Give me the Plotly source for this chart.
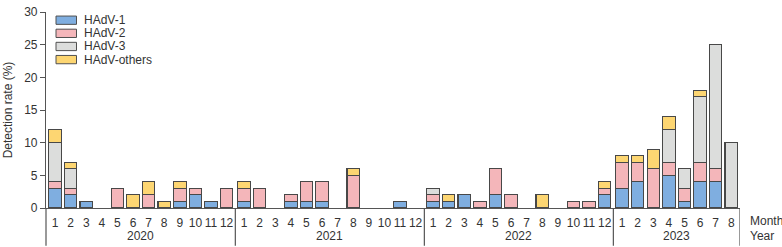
import plotly.graph_objects as go

years = ["2020", "2021", "2022", "2023"]
months_per_year = [12, 12, 12, 8]

hadv1 = [3, 2, 1, 0, 0, 0, 0, 0, 1, 2, 1, 0,
         1, 0, 0, 1, 1, 1, 0, 0, 0, 0, 1, 0,
         1, 1, 2, 0, 2, 0, 0, 0, 0, 0, 0, 2,
         3, 4, 0, 5, 1, 4, 4, 0]
hadv2 = [1, 1, 0, 0, 3, 0, 2, 0, 2, 1, 0, 3,
         2, 3, 0, 1, 3, 3, 0, 5, 0, 0, 0, 0,
         1, 0, 0, 1, 4, 2, 0, 0, 0, 1, 1, 1,
         4, 3, 6, 2, 2, 3, 2, 0]
hadv3 = [6, 3, 0, 0, 0, 0, 0, 0, 0, 0, 0, 0,
         0, 0, 0, 0, 0, 0, 0, 0, 0, 0, 0, 0,
         1, 0, 0, 0, 0, 0, 0, 0, 0, 0, 0, 0,
         0, 0, 0, 5, 3, 10, 19, 10]
hadv_others = [2, 1, 0, 0, 0, 2, 2, 1, 1, 0, 0, 0,
               1, 0, 0, 0, 0, 0, 0, 1, 0, 0, 0, 0,
               0, 1, 0, 0, 0, 0, 0, 2, 0, 0, 0, 1,
               1, 1, 3, 2, 0, 1, 0, 0]

series_names = ["HAdV-1", "HAdV-2", "HAdV-3", "HAdV-others"]
series_values = [hadv1, hadv2, hadv3, hadv_others]
colors = ["#7FAEE0", "#F4B6BA", "#DCDDDC", "#FDD672"]

# positions (small extra gap between years)
YEAR_GAP = 0.12
xpos, month_labels, year_centers, year_bounds = [], [], [], []
i = 0
for yi, n in enumerate(months_per_year):
    start = i + yi * YEAR_GAP
    for m in range(n):
        xpos.append(i + yi * YEAR_GAP)
        month_labels.append(str(m + 1))
        i += 1
    end = xpos[-1]
    year_centers.append((start + end) / 2)
    year_bounds.append((start, end))

fig = go.Figure()
for name, vals, col in zip(series_names, series_values, colors):
    fig.add_trace(go.Bar(
        x=xpos, y=[v if v else None for v in vals], name=name,
        marker=dict(color=col, line=dict(color="rgb(72,72,72)", width=1.1)),
        width=0.8, showlegend=False))

x_lo, x_hi = -0.58, xpos[-1] + 0.56
W, H = 782, 247
ml, mr, mt, mb = 46, 42, 5, 39
pw, ph = W - ml - mr, H - mt - mb

def py(p):  # pixel y -> paper y
    return (H - mb - p) / ph

def px(p):  # pixel x -> paper x
    return (p - ml) / pw

shapes = []
annotations = []
sep_xs = [(year_bounds[k][1] + year_bounds[k + 1][0]) / 2 for k in range(len(years) - 1)] + [x_hi]
for sx in sep_xs:
    shapes.append(dict(type="line", xref="x", yref="paper", x0=sx, x1=sx, y0=0, y1=py(H),
                       line=dict(color="#555", width=1.2)))
shapes.append(dict(type="line", xref="paper", yref="paper", x0=0, x1=0, y0=0, y1=py(H),
                   line=dict(color="#555", width=1.2)))

for yc, yl in zip(year_centers, years):
    annotations.append(dict(x=yc, y=py(237.5), xref="x", yref="paper", text=yl, showarrow=False,
                            font=dict(size=12, color="#333"), xanchor="center", yanchor="middle"))
annotations.append(dict(x=px(748), y=py(221), xref="paper", yref="paper", text="Month", showarrow=False,
                        font=dict(size=12, color="#333"), xanchor="left", yanchor="middle"))
annotations.append(dict(x=px(748), y=py(237.5), xref="paper", yref="paper", text="Year", showarrow=False,
                        font=dict(size=12, color="#333"), xanchor="left", yanchor="middle"))

# manual legend
for k, (name, col) in enumerate(zip(series_names, colors)):
    cy = 13.5 + k * 13.6
    shapes.append(dict(type="rect", xref="paper", yref="paper",
                       x0=px(56), x1=px(76.5), y0=py(cy - 4.3), y1=py(cy + 4.3),
                       fillcolor=col, line=dict(color="rgb(80,80,80)", width=1)))
    annotations.append(dict(x=px(82), y=py(cy), xref="paper", yref="paper", text=name, showarrow=False,
                            font=dict(size=12, color="#333"), xanchor="left", yanchor="middle"))

fig.update_layout(
    width=W, height=H, barmode="stack", bargap=0.2,
    margin=dict(l=ml, r=mr, t=mt, b=mb),
    plot_bgcolor="white", paper_bgcolor="white",
    font=dict(family="Liberation Sans, Arial, sans-serif", size=12, color="#333"),
    shapes=shapes, annotations=annotations,
    xaxis=dict(range=[x_lo, x_hi], tickmode="array", tickvals=xpos, ticktext=month_labels,
               showline=True, linecolor="#555", linewidth=1.2, showgrid=False, zeroline=False,
               ticks="outside", ticklen=3, tickcolor="rgba(0,0,0,0)",
               tickfont=dict(size=12, color="#333")),
    yaxis=dict(range=[0, 30], tickvals=[0, 5, 10, 15, 20, 25, 30],
               showline=True, linecolor="#555", linewidth=1.2, showgrid=False, zeroline=False,
               ticks="outside", ticklen=5, tickcolor="#555", tickwidth=1.2,
               ticklabeloverflow="allow",
               tickfont=dict(size=12, color="#333"),
               title=dict(text="Detection rate (%)", font=dict(size=12, color="#333"), standoff=8)),
)

fig.write_html("out.html")
